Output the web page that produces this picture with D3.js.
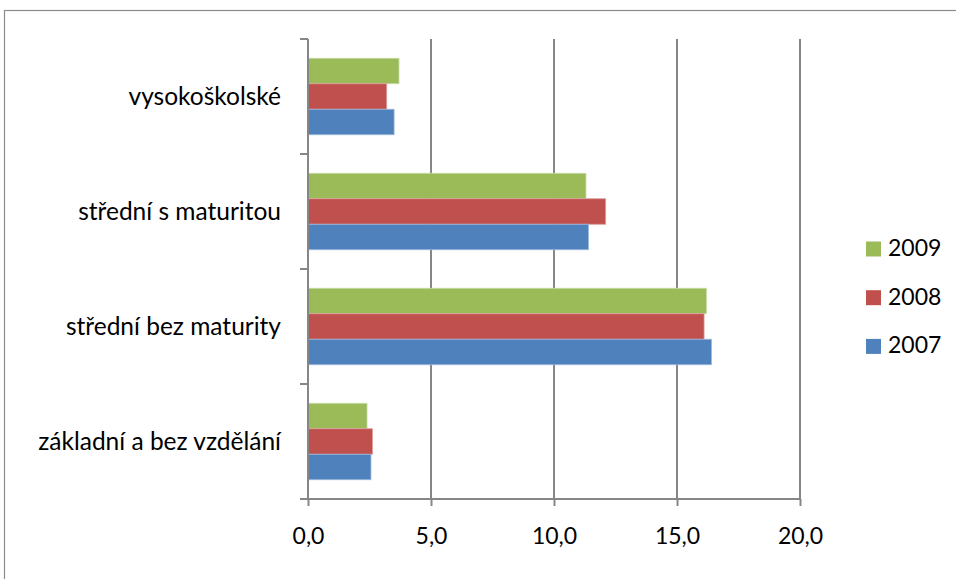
<!DOCTYPE html>
<html>
<head>
<meta charset="utf-8">
<script src="https://cdn.jsdelivr.net/npm/d3@7"></script>
<style>
  body { margin: 0; background: #fff; }
  text { font-family: Lato, "Open Sans", sans-serif; fill: #000; }
</style>
</head>
<body>
<script>
var categories = ["vysokoškolské", "střední s maturitou", "střední bez maturity", "základní a bez vzdělání"];
var years = ["2009", "2008", "2007"];
var values2009 = [3.7, 11.3, 16.2, 2.4];
var values2008 = [3.2, 12.1, 16.1, 2.62];
var values2007 = [3.5, 11.4, 16.4, 2.56];
var xTicks = [0, 5, 10, 15, 20];

var width = 956, height = 579;
var colors = {"2009": "#9bbb59", "2008": "#c0504d", "2007": "#4f81bd"};
var strokes = {"2009": "#c9dcab", "2008": "#dc9c9a", "2007": "#9db9dd"};
var series = {"2009": values2009, "2008": values2008, "2007": values2007};

var svg = d3.select("body").append("svg").attr("width", width).attr("height", height);

// outer chart border
svg.append("rect")
    .attr("x", 4.5).attr("y", 10.5)
    .attr("width", 970).attr("height", 600)
    .attr("fill", "none").attr("stroke", "#8c8c8c").attr("stroke-width", 1.2);

var x = d3.scaleLinear().domain([0, 20]).range([308, 800]);
var y0 = d3.scaleBand().domain(categories).range([39, 499]);
var y1 = d3.scaleBand().domain(years).range([0, y0.bandwidth()]).paddingOuter(0.755);

// vertical gridlines
svg.append("g")
    .selectAll("line").data(xTicks.slice(1)).enter()
    .append("line")
    .attr("x1", function (d) { return x(d); })
    .attr("x2", function (d) { return x(d); })
    .attr("y1", 39).attr("y2", 499)
    .attr("stroke", "#868686").attr("stroke-width", 2);

// bars
var groups = svg.append("g").selectAll("g").data(categories).enter()
    .append("g")
    .attr("transform", function (d) { return "translate(0," + y0(d) + ")"; });

groups.selectAll("rect")
    .data(function (d, i) {
        return years.map(function (yr) { return {year: yr, value: series[yr][i]}; });
    })
    .enter().append("rect")
    .attr("x", x(0))
    .attr("y", function (d) { return y1(d.year); })
    .attr("width", function (d) { return x(d.value) - x(0); })
    .attr("height", y1.bandwidth())
    .attr("fill", function (d) { return colors[d.year]; })
    .attr("stroke", function (d) { return strokes[d.year]; })
    .attr("stroke-width", 0.8);

// x axis
var xAxis = svg.append("g")
    .attr("transform", "translate(0,499)")
    .call(d3.axisBottom(x).tickValues(xTicks).tickSize(7).tickPadding(22)
        .tickFormat(function (d) { return d3.format(".1f")(d).replace(".", ","); }));
xAxis.select(".domain").attr("stroke", "#868686").attr("stroke-width", 2).attr("d", "M308,0H800");
xAxis.selectAll(".tick line").attr("stroke", "#868686").attr("stroke-width", 2);
xAxis.selectAll("text").style("font-size", "23px").attr("fill", "#000");

// y axis
var yTickPos = d3.range(5).map(function (i) { return 39 + i * y0.step(); });
svg.append("line")
    .attr("x1", 308).attr("x2", 308).attr("y1", 39).attr("y2", 500)
    .attr("stroke", "#868686").attr("stroke-width", 2);
svg.append("g").selectAll("line").data(yTickPos).enter()
    .append("line")
    .attr("x1", 300).attr("x2", 308)
    .attr("y1", function (d) { return d; }).attr("y2", function (d) { return d; })
    .attr("stroke", "#868686").attr("stroke-width", 2);

svg.append("g").selectAll("text").data(categories).enter()
    .append("text")
    .attr("x", 281)
    .attr("y", function (d) { return y0(d) + y0.bandwidth() / 2 + 2; })
    .attr("text-anchor", "end")
    .attr("dominant-baseline", "middle")
    .style("font-size", "24.5px")
    .text(function (d) { return d; });

// legend
var legend = svg.append("g").selectAll("g").data(years).enter()
    .append("g")
    .attr("transform", function (d, i) { return "translate(866," + (249 + i * 48.7) + ")"; });
legend.append("rect")
    .attr("x", 0).attr("y", -7.5).attr("width", 15).attr("height", 15)
    .attr("fill", function (d) { return colors[d]; });
legend.append("text")
    .attr("x", 22).attr("y", 1)
    .attr("dominant-baseline", "middle")
    .style("font-size", "23px")
    .text(function (d) { return d; });
</script>
</body>
</html>
